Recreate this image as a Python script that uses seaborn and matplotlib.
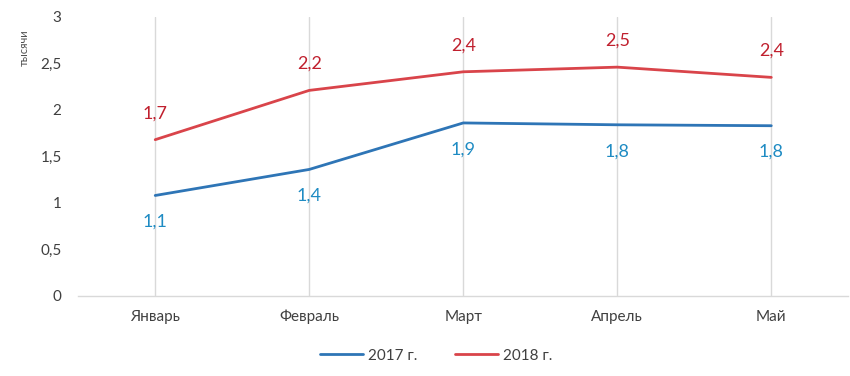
import pandas as pd
import seaborn as sns
import matplotlib.pyplot as plt

# Данные
months = ['Январь', 'Февраль', 'Март', 'Апрель', 'Май']
vals_2017 = [1.08, 1.36, 1.86, 1.84, 1.83]
vals_2018 = [1.68, 2.21, 2.41, 2.46, 2.35]
labels_2017 = ['1,1', '1,4', '1,9', '1,8', '1,8']
labels_2018 = ['1,7', '2,2', '2,4', '2,5', '2,4']
series = ['2017 г.', '2018 г.']

df = pd.DataFrame({
    'month': months * 2,
    'value': vals_2017 + vals_2018,
    'year': [series[0]] * 5 + [series[1]] * 5,
})

sns.set_style('white')
plt.rcParams['font.family'] = ['Lato', 'DejaVu Sans']

fig = plt.figure(figsize=(8.5, 3.76), dpi=100)
ax = fig.add_axes([0.092, 0.213, 0.906, 0.742])

line_colors = {'2017 г.': '#2E75B6', '2018 г.': '#D9444A'}
sns.lineplot(data=df, x='month', y='value', hue='year', palette=line_colors,
             linewidth=2, sort=False, ax=ax)

# Подписи значений
for i, (v, t) in enumerate(zip(vals_2017, labels_2017)):
    ax.annotate(t, (i, v), xytext=(0, -19), textcoords='offset points',
                ha='center', va='center', fontsize=13, color='#1E8BC3')
for i, (v, t) in enumerate(zip(vals_2018, labels_2018)):
    ax.annotate(t, (i, v), xytext=(0, 19), textcoords='offset points',
                ha='center', va='center', fontsize=13, color='#C0202E')

ax.set_xlim(-0.5, len(months) - 0.5)
ax.set_ylim(0, 3)
ax.set_yticks([0, 0.5, 1, 1.5, 2, 2.5, 3])
ax.set_yticklabels(['0', '0,5', '1', '1,5', '2', '2,5', '3'])
ax.tick_params(axis='both', length=0, labelsize=11, colors='#404040')
ax.tick_params(axis='y', pad=12)
ax.tick_params(axis='x', pad=10)
ax.set_xlabel('')
ax.set_ylabel('')
ax.xaxis.grid(True, color='#D9D9D9', linewidth=1)
ax.yaxis.grid(False)
for s in ['top', 'right', 'left']:
    ax.spines[s].set_visible(False)
ax.spines['bottom'].set_color('#D9D9D9')
ax.spines['bottom'].set_linewidth(1)

fig.text(0.029, 0.872, 'тысячи', rotation=90, fontsize=8, color='#505050',
         ha='center', va='center')

ax.legend(loc='upper center', bbox_to_anchor=(0.465, -0.14), ncol=2,
          frameon=False, fontsize=11, handlelength=2.8, columnspacing=2.5,
          handletextpad=0.3, labelcolor='#404040')

fig.savefig('out.png', dpi=100)
